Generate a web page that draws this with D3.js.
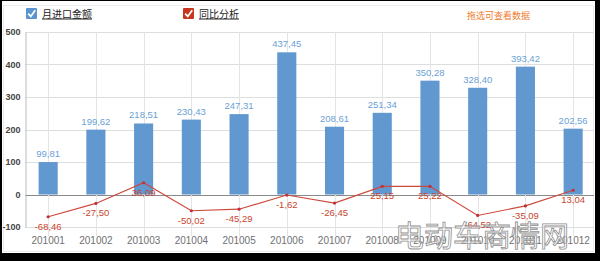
<!DOCTYPE html>
<html>
<head>
<meta charset="utf-8">
<script src="https://cdn.jsdelivr.net/npm/d3@7/dist/d3.min.js"></script>
<style>
  html, body { margin: 0; padding: 0; background: #000; }
  svg { display: block; }
  text { font-family: "Liberation Sans", Arial, sans-serif; }
  .cjk { font-family: "Noto Sans CJK SC", sans-serif; }
</style>
</head>
<body>
<svg id="chart" width="600" height="261"></svg>
<script>
// Monthly import amount (bars) and year-on-year change in % (line), 2010
const months = ["201001","201002","201003","201004","201005","201006",
                "201007","201008","201009","201010","201011","201012"];
const importAmount = [99.81, 199.62, 218.51, 230.43, 247.31, 437.45,
                      208.61, 251.34, 350.28, 328.40, 393.42, 202.56];
const yoyChange = [-68.46, -27.50, 36.09, -50.02, -45.29, -1.62,
                   -26.45, 25.15, 25.22, -64.52, -35.09, 13.04];
const yTicks = [-100, 0, 100, 200, 300, 400, 500];

// decimal comma, plain hyphen for negatives
const fmt = v => v.toFixed(2).replace(".", ",");

const svg = d3.select("#chart");

// white panel inside the dark frame
svg.append("rect").attr("x", 2).attr("y", 1).attr("width", 593).attr("height", 252)
  .attr("fill", "#fff");
svg.append("rect").attr("x", 3.5).attr("y", 5.5).attr("width", 590).attr("height", 246)
  .attr("fill", "none").attr("stroke", "#ececec");

const x = d3.scaleBand().domain(months).range([24.3, 597]).paddingInner(0.6).paddingOuter(0.3);
const xc = d => x(d) + x.bandwidth() / 2;
const y = d3.scaleLinear().domain([-100, 500]).range([227, 32]);

// horizontal grid
svg.append("g").selectAll("line").data(yTicks).join("line")
  .attr("x1", 25).attr("x2", 594)
  .attr("y1", d => Math.round(y(d)) + 0.5).attr("y2", d => Math.round(y(d)) + 0.5)
  .attr("stroke", d => d === 0 ? "#8a8a8a" : "#dedede");

// vertical grid at category centres
svg.append("g").selectAll("line").data(months).join("line")
  .attr("x1", d => Math.round(xc(d)) + 0.5).attr("x2", d => Math.round(xc(d)) + 0.5)
  .attr("y1", 32).attr("y2", 236)
  .attr("stroke", "#e4e4e4");

// y axis
const yAxis = d3.axisLeft(y).tickValues(yTicks).tickFormat(d => String(d))
  .tickSize(0).tickPadding(5);
const gy = svg.append("g").attr("transform", "translate(25.5,0)").call(yAxis);
gy.select(".domain").attr("stroke", "#bbb");
gy.selectAll("text").attr("font-size", 9).attr("font-weight", "bold").attr("fill", "#444")
  .attr("dy", "0.32em");

// bars
svg.append("g").selectAll("rect").data(importAmount).join("rect")
  .attr("x", (d, i) => x(months[i]))
  .attr("width", x.bandwidth())
  .attr("y", d => y(d))
  .attr("height", d => y(0) - y(d))
  .attr("fill", "#6198d0");

// bar value labels
svg.append("g").selectAll("text").data(importAmount).join("text")
  .attr("x", (d, i) => xc(months[i]))
  .attr("y", d => y(d) - 5)
  .attr("text-anchor", "middle")
  .attr("font-size", 9.5)
  .attr("fill", "#6b9fd6")
  .text(fmt);

// x axis labels
const xAxis = d3.axisBottom(x).tickSize(0).tickPadding(0);
const gx = svg.append("g").attr("transform", "translate(0,237)").call(xAxis);
gx.select(".domain").remove();
gx.selectAll("text").attr("font-size", 10).attr("fill", "#707070").attr("dy", "0.71em");

// year-on-year line
const line = d3.line().x((d, i) => xc(months[i])).y(d => y(d));
svg.append("path").datum(yoyChange)
  .attr("d", line).attr("fill", "none").attr("stroke", "#cc4a3c").attr("stroke-width", 1.2);
svg.append("g").selectAll("circle").data(yoyChange).join("circle")
  .attr("cx", (d, i) => xc(months[i])).attr("cy", d => y(d)).attr("r", 1.6)
  .attr("fill", "#c0303a");
svg.append("g").selectAll("text").data(yoyChange).join("text")
  .attr("x", (d, i) => xc(months[i]))
  .attr("y", d => y(d) + 13)
  .attr("text-anchor", "middle")
  .attr("font-size", 9.5)
  .attr("fill", "#c8452e")
  .text(fmt);

// legend with checkboxes
const legend = [
  { label: "月进口金额", color: "#5b95cf", x: 26 },
  { label: "同比分析", color: "#c7361f", x: 183 }
];
const lg = svg.append("g").selectAll("g").data(legend).join("g")
  .attr("transform", d => `translate(${d.x},8)`);
lg.append("rect").attr("width", 11).attr("height", 11).attr("rx", 1).attr("fill", d => d.color);
lg.append("path").attr("d", "M2.2,5.6 L4.8,8.4 L9.2,2.2")
  .attr("fill", "none").attr("stroke", "#fff").attr("stroke-width", 1.8);
lg.append("text").attr("class", "cjk").attr("x", 16).attr("y", 9.5)
  .attr("font-size", 10).attr("fill", "#222").attr("text-decoration", "underline")
  .text(d => d.label);

svg.append("text").attr("class", "cjk").attr("x", 467).attr("y", 18.5)
  .attr("font-size", 9).attr("fill", "#f07b2c").text("拖选可查看数据");

// site watermark
svg.append("text").attr("class", "cjk").attr("x", 395).attr("y", 247)
  .attr("font-size", 29)
  .attr("fill", "#fff").attr("fill-opacity", 0.55)
  .attr("stroke", "#8f8f8f").attr("stroke-width", 0.8)
  .text("电动车商情网");
</script>
</body>
</html>
